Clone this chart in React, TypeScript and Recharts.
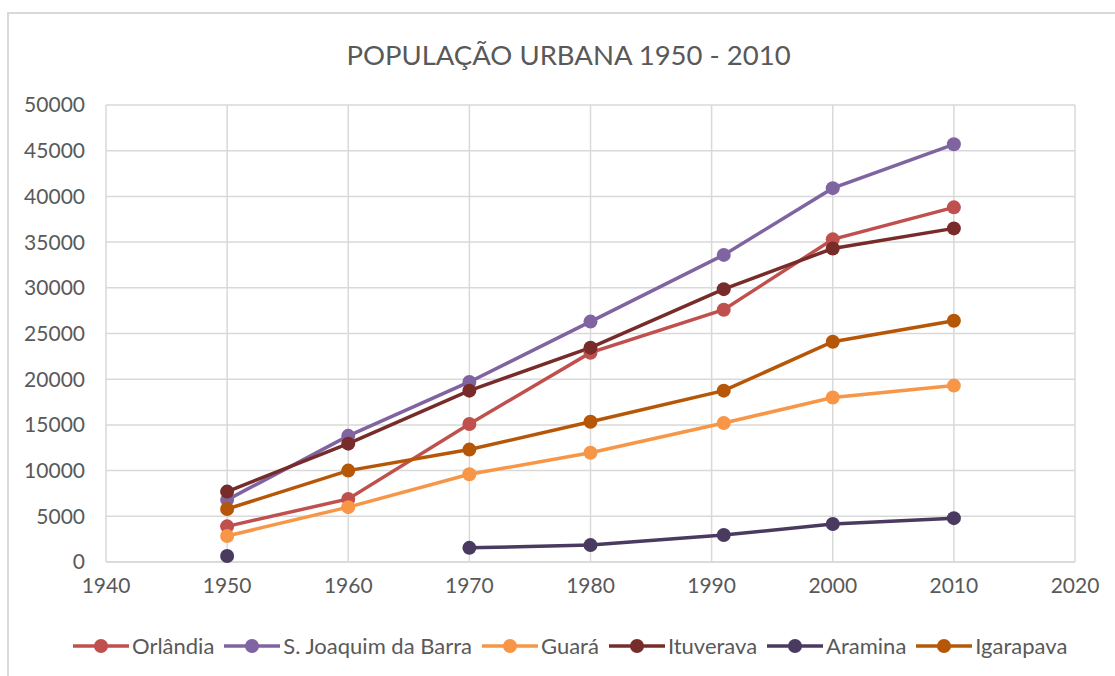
import { CartesianGrid, Line, LineChart, XAxis, YAxis } from "recharts";

const years = [1950, 1960, 1970, 1980, 1991, 2000, 2010];

const orlandia = [3900, 6900, 15100, 22900, 27600, 35300, 38800];
const saoJoaquim = [6800, 13800, 19700, 26300, 33600, 40900, 45700];
const guara = [2850, 6000, 9600, 11950, 15200, 18000, 19300];
const ituverava = [7700, 12950, 18750, 23450, 29850, 34300, 36500];
const aramina = [650, null, 1550, 1850, 2950, 4150, 4800];
const igarapava = [5800, 10000, 12300, 15350, 18750, 24100, 26400];

const xTicks = [1940, 1950, 1960, 1970, 1980, 1990, 2000, 2010, 2020];
const yTicks = [0, 5000, 10000, 15000, 20000, 25000, 30000, 35000, 40000, 45000, 50000];

const series = [
  { key: "orlandia", name: "Orlândia", color: "#C0504D", values: orlandia },
  { key: "saoJoaquim", name: "S. Joaquim da Barra", color: "#8064A2", values: saoJoaquim },
  { key: "guara", name: "Guará", color: "#F79646", values: guara },
  { key: "ituverava", name: "Ituverava", color: "#772C2A", values: ituverava },
  { key: "aramina", name: "Aramina", color: "#4A3A5F", values: aramina },
  { key: "igarapava", name: "Igarapava", color: "#B65708", values: igarapava },
];

const chartData = years.map((year, i) => {
  const row: Record<string, number | null> = { year };
  series.forEach((s) => {
    row[s.key] = s.values[i];
  });
  return row;
});

const font = "Lato, 'Open Sans', sans-serif";
const textColor = "#595959";

export default function App() {
  return (
    <div
      style={{
        position: "absolute",
        left: 0,
        top: 0,
        width: 1115,
        height: 676,
        background: "#fff",
        overflow: "hidden",
        fontFamily: font,
      }}
    >
      <div style={{ position: "absolute", left: 7, top: 12, width: 1108, height: 2, background: "#d9d9d9" }} />
      <div style={{ position: "absolute", left: 7, top: 12, width: 2, height: 664, background: "#d9d9d9" }} />
      <div
        style={{
          position: "absolute",
          left: 0,
          top: 38,
          width: 1137,
          textAlign: "center",
          fontSize: 27.5,
          color: textColor,
        }}
      >
        POPULAÇÃO URBANA 1950 - 2010
      </div>
      <div style={{ position: "absolute", left: 0, top: 0 }}>
        <LineChart
          width={1115}
          height={602}
          data={chartData}
          margin={{ top: 105, right: 40, bottom: 0, left: 0 }}
        >
          <CartesianGrid stroke="#d9d9d9" strokeWidth={1.5} />
          <XAxis
            dataKey="year"
            type="number"
            domain={[1940, 2020]}
            ticks={xTicks}
            height={40}
            tickLine={false}
            tickSize={0}
            tickMargin={16}
            axisLine={{ stroke: "#d9d9d9", strokeWidth: 1.5 }}
            tick={{ fill: textColor, fontSize: 21, fontFamily: font }}
          />
          <YAxis
            type="number"
            domain={[0, 50000]}
            ticks={yTicks}
            width={106}
            axisLine={false}
            tickLine={false}
            tickSize={0}
            tickMargin={21}
            tick={{ fill: textColor, fontSize: 21, fontFamily: font }}
          />
          {series.map((s) => (
            <Line
              key={s.key}
              dataKey={s.key}
              name={s.name}
              type="linear"
              stroke={s.color}
              strokeWidth={3.5}
              dot={{ r: 7, fill: s.color, stroke: s.color, strokeWidth: 0 }}
              activeDot={false}
              connectNulls={false}
              isAnimationActive={false}
            />
          ))}
        </LineChart>
      </div>
      <div
        style={{
          position: "absolute",
          left: 73,
          top: 632,
          display: "flex",
          alignItems: "center",
          gap: 10,
          fontSize: 22,
          color: textColor,
        }}
      >
        {series.map((s) => (
          <div key={s.key} style={{ display: "flex", alignItems: "center" }}>
            <svg width={56} height={20} style={{ marginRight: 3 }}>
              <line x1={0} y1={10} x2={56} y2={10} stroke={s.color} strokeWidth={3.5} />
              <circle cx={28} cy={10} r={7} fill={s.color} />
            </svg>
            <span>{s.name}</span>
          </div>
        ))}
      </div>
    </div>
  );
}
